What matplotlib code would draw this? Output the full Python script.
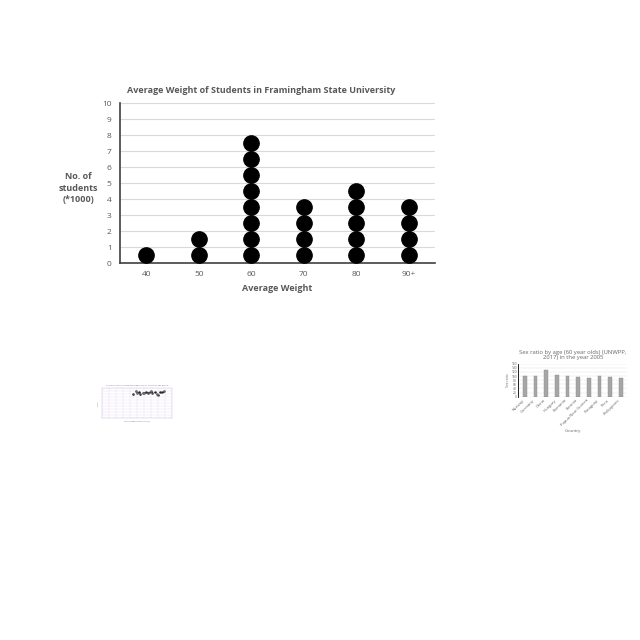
import matplotlib
matplotlib.use("Agg")
from matplotlib import pyplot as plt

plt.rcParams["font.family"] = ["Open Sans", "DejaVu Sans"]

# main dot plot
weights = ["40", "50", "60", "70", "80", "90+"]
counts = [1, 2, 8, 4, 5, 4]
yticks = list(range(0, 11))

# thumbnail scatter (approximate)
sc_x = [45, 48, 50, 53, 55, 58, 60, 63, 65, 68, 70, 72, 75, 78, 80, 83, 85, 88]
sc_y = [78, 88, 82, 86, 80, 84, 82, 87, 83, 85, 88, 84, 86, 80, 76, 86, 87, 88]

# thumbnail bar chart (approximate)
countries = ["Norway", "Germany", "China", "Hungary", "Romania", "Estonia",
             "Papua New Guinea", "Paraguay", "Peru", "Philippines"]
ratios = [100, 98, 128, 104, 102, 95, 92, 100, 96, 92]

GREY = "#595959"

fig = plt.figure(figsize=(6.4, 6.4), dpi=100)
fig.patch.set_facecolor("white")

ax = fig.add_axes([0.1875, 0.589, 0.492, 0.25])
for i, c in enumerate(counts):
    ys = [k + 0.5 for k in range(c)]
    ax.plot([i] * c, ys, "o", color="black", markersize=11, linestyle="none", zorder=3)
ax.set_xlim(-0.5, len(weights) - 0.5)
ax.set_ylim(0, 10)
ax.set_xticks(range(len(weights)))
ax.set_xticklabels(weights)
ax.set_yticks(yticks)
ax.tick_params(axis="both", length=0, labelsize=6, colors=GREY, pad=6)
ax.grid(axis="y", color="#d9d9d9", linewidth=0.8)
ax.set_axisbelow(True)
for s in ["top", "right"]:
    ax.spines[s].set_visible(False)
ax.spines["left"].set_color("#404040")
ax.spines["left"].set_linewidth(1.2)
ax.spines["bottom"].set_color("#404040")
ax.spines["bottom"].set_linewidth(1.2)
ax.set_xlabel("Average Weight", fontsize=6.5, color=GREY, fontweight="bold", labelpad=4)
fig.text(0.122, 0.706, "No. of\nstudents\n(*1000)", ha="center", va="center",
         fontsize=6.5, color=GREY, fontweight="bold", linespacing=1.4)
fig.text(0.198, 0.858, "Average Weight of Students in Framingham State University",
         ha="left", va="center", fontsize=6.5, color=GREY, fontweight="bold")

# scatter thumbnail
ax2 = fig.add_axes([0.159, 0.347, 0.11, 0.047])
ax2.scatter(sc_x, sc_y, s=0.8, color="#222222")
ax2.set_xlim(0, 100)
ax2.set_ylim(0, 100)
ax2.set_xticks(range(0, 101, 10))
ax2.set_yticks(range(0, 101, 10))
ax2.tick_params(length=0, labelsize=1.2, colors="#999999", pad=1)
ax2.set_xticklabels([])
ax2.set_yticklabels([])
ax2.grid(color="#e4ddf0", linewidth=0.3)
for s in ax2.spines.values():
    s.set_color("#c8c0dc")
    s.set_linewidth(0.3)
ax2.set_title("Sample scatter of student measures vs. score by age group",
              fontsize=1.6, color="#777777", pad=1.5)
ax2.set_xlabel("Percentage of students (%)", fontsize=1.5, color="#777777", labelpad=1)
ax2.set_ylabel("Score", fontsize=1.5, color="#777777", labelpad=1)

# bar chart thumbnail
ax3 = fig.add_axes([0.81, 0.38, 0.17, 0.052])
ax3.bar(range(len(countries)), ratios, width=0.35, color="#a6a6a6", edgecolor="#8c8c8c",
        linewidth=0.3, zorder=3)
ax3.set_ylim(0, 160)
ax3.set_yticks(range(0, 161, 20))
ax3.set_xticks(range(len(countries)))
ax3.set_xticklabels(countries, rotation=45, ha="right", fontsize=3, color="#666666")
ax3.tick_params(axis="y", labelsize=2.3, colors="#666666", length=0, pad=1)
ax3.tick_params(axis="x", length=0, pad=1)
ax3.grid(axis="y", color="#e0e0e0", linewidth=0.3)
for s in ["top", "right", "bottom"]:
    ax3.spines[s].set_visible(False)
ax3.spines["left"].set_linewidth(0.6)
ax3.set_xlim(-0.6, len(countries) - 0.4)
ax3.set_title("Sex ratio by age (60 year olds) (UNWPP,\n2017) in the year 2005",
              fontsize=4.2, color="#666666", pad=3)
ax3.set_xlabel("Country", fontsize=3.2, color="#666666", labelpad=1)
ax3.set_ylabel("Sex ratio", fontsize=2.4, color="#666666", labelpad=1)

fig.savefig("out.png", dpi=100, facecolor="white")
